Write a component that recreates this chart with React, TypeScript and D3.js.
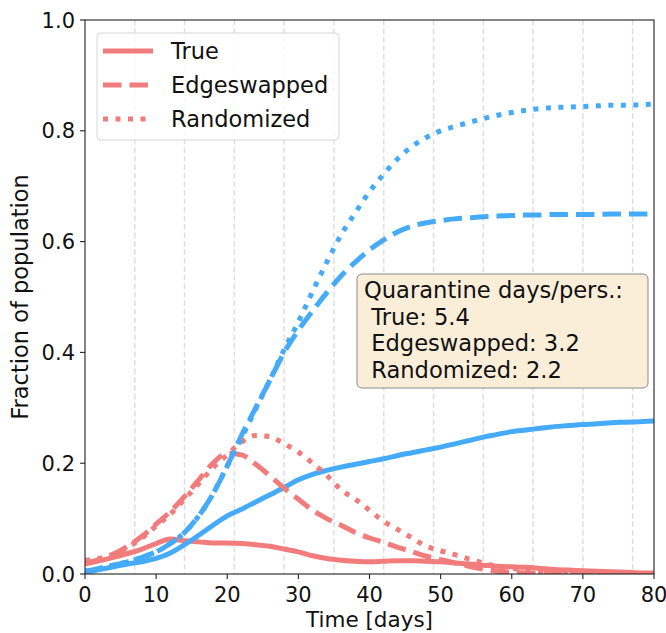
import React from 'react';
import * as d3 from 'd3';

const days = [0, 2, 4, 6, 8, 10, 12, 14, 16, 18, 20, 22, 24, 26, 28, 30, 32, 34, 36, 38, 40,
  42, 44, 46, 48, 50, 52, 54, 56, 58, 60, 62, 64, 66, 68, 70, 72, 74, 76, 78, 80];

// cumulative (blue)
const trueCum = [0.003, 0.008, 0.013, 0.018, 0.022, 0.028, 0.038, 0.053, 0.07, 0.088, 0.105,
  0.117, 0.13, 0.143, 0.156, 0.17, 0.18, 0.187, 0.193, 0.198, 0.203, 0.208, 0.214, 0.219,
  0.224, 0.229, 0.235, 0.241, 0.247, 0.252, 0.257, 0.26, 0.263, 0.266, 0.268, 0.27, 0.271,
  0.273, 0.274, 0.275, 0.276];
const edgeCum = [0.005, 0.01, 0.016, 0.022, 0.03, 0.04, 0.055, 0.075, 0.105, 0.145, 0.195,
  0.25, 0.3, 0.35, 0.4, 0.44, 0.475, 0.508, 0.538, 0.563, 0.585, 0.603, 0.618, 0.628, 0.634,
  0.638, 0.641, 0.643, 0.645, 0.646, 0.647, 0.648, 0.648, 0.649, 0.649, 0.649, 0.649, 0.65,
  0.65, 0.65, 0.65];
const randCum = [0.005, 0.01, 0.016, 0.022, 0.03, 0.04, 0.055, 0.075, 0.105, 0.145, 0.195,
  0.245, 0.298, 0.35, 0.405, 0.455, 0.51, 0.563, 0.612, 0.652, 0.69, 0.722, 0.75, 0.772,
  0.788, 0.8, 0.808, 0.815, 0.822, 0.828, 0.833, 0.837, 0.84, 0.842, 0.843, 0.844, 0.845,
  0.846, 0.846, 0.847, 0.848];

// currently infected (red)
const trueAct = [0.018, 0.024, 0.03, 0.037, 0.045, 0.055, 0.063, 0.06, 0.058, 0.056, 0.056,
  0.055, 0.053, 0.05, 0.045, 0.04, 0.033, 0.028, 0.025, 0.023, 0.022, 0.023, 0.024, 0.024,
  0.023, 0.022, 0.02, 0.018, 0.016, 0.014, 0.013, 0.012, 0.01, 0.008, 0.007, 0.006, 0.005,
  0.004, 0.003, 0.002, 0.002];
const edgeAct = [0.02, 0.026, 0.036, 0.05, 0.068, 0.09, 0.113, 0.14, 0.17, 0.2, 0.218,
  0.215, 0.198, 0.177, 0.155, 0.135, 0.115, 0.1, 0.088, 0.075, 0.065, 0.057, 0.048, 0.04,
  0.032, 0.026, 0.02, 0.014, 0.009, 0.005, 0.003, 0.002, 0.001, 0.001, 0, 0, 0, 0, 0, 0, 0];
const randAct = [0.025, 0.028, 0.036, 0.048, 0.065, 0.087, 0.108, 0.135, 0.163, 0.192, 0.215,
  0.238, 0.25, 0.248, 0.235, 0.22, 0.2, 0.178, 0.152, 0.135, 0.115, 0.095, 0.08, 0.065,
  0.05, 0.042, 0.035, 0.027, 0.02, 0.013, 0.01, 0.007, 0.004, 0.002, 0.001, 0, 0, 0, 0, 0, 0];

const legendLabels = ['True', 'Edgeswapped', 'Randomized'];
const boxLines = ['Quarantine days/pers.:', ' True: 5.4', ' Edgeswapped: 3.2', ' Randomized: 2.2'];
const xTicks = [0, 10, 20, 30, 40, 50, 60, 70, 80];
const yTicks = [0, 0.2, 0.4, 0.6, 0.8, 1.0];
const gridDays = [7, 14, 21, 28, 35, 42, 49, 56, 63, 70, 77];

const RED = '#f27b7b';
const BLUE = '#45aaf7';
const dashes = ['none', '18.5,8', '5,7.5'];
const font = 'DejaVu Sans, sans-serif';

export default function App() {
  const W = 666, H = 633;
  const left = 85, right = 654, top = 20, bottom = 574;

  const x = d3.scaleLinear().domain([0, 80]).range([left, right]);
  const y = d3.scaleLinear().domain([0, 1]).range([bottom, top]);

  const line = d3.line<number>()
    .x((_, i) => x(days[i]))
    .y(d => y(d))
    .curve(d3.curveMonotoneX);

  const series = [
    { vals: trueAct, color: RED, dash: dashes[0] },
    { vals: trueCum, color: BLUE, dash: dashes[0] },
    { vals: edgeAct, color: RED, dash: dashes[1] },
    { vals: edgeCum, color: BLUE, dash: dashes[1] },
    { vals: randAct, color: RED, dash: dashes[2] },
    { vals: randCum, color: BLUE, dash: dashes[2] },
  ];

  return (
    <svg width={W} height={H} style={{ position: 'absolute', left: 0, top: 0, background: '#fff' }}
      fontFamily={font}>
      <defs>
        <clipPath id="plot">
          <rect x={left} y={top} width={right - left} height={bottom - top} />
        </clipPath>
      </defs>

      {gridDays.map(d => (
        <line key={d} x1={x(d)} x2={x(d)} y1={top} y2={bottom}
          stroke="#dedede" strokeWidth={1.5} strokeDasharray="5.5,3" />
      ))}

      <g clipPath="url(#plot)">
        {series.map((s, i) => (
          <path key={i} d={line(s.vals) || ''} fill="none" stroke={s.color}
            strokeWidth={5} strokeDasharray={s.dash} />
        ))}
      </g>

      {/* spines */}
      <rect x={left} y={top} width={right - left} height={bottom - top}
        fill="none" stroke="#222" strokeWidth={1.1} />

      {/* x axis */}
      {xTicks.map(t => (
        <g key={t}>
          <line x1={x(t)} x2={x(t)} y1={bottom} y2={bottom + 5} stroke="#222" strokeWidth={1.1} />
          <text x={x(t)} y={bottom + 28} textAnchor="middle" fontSize={21} fill="#111">{t}</text>
        </g>
      ))}
      <text x={(left + right) / 2} y={627} textAnchor="middle" fontSize={21.5} fill="#111">Time [days]</text>

      {/* y axis */}
      {yTicks.map(t => (
        <g key={t}>
          <line x1={left - 5} x2={left} y1={y(t)} y2={y(t)} stroke="#222" strokeWidth={1.1} />
          <text x={left - 10} y={y(t) + 7.5} textAnchor="end" fontSize={21} fill="#111">{t.toFixed(1)}</text>
        </g>
      ))}
      <text transform={`translate(28,${(top + bottom) / 2}) rotate(-90)`} textAnchor="middle"
        fontSize={22.5} fill="#111">Fraction of population</text>

      {/* legend */}
      <rect x={97} y={33} width={242} height={107} rx={4} fill="#fff" fillOpacity={0.8}
        stroke="#d6d6d6" strokeWidth={1} />
      {legendLabels.map((lab, i) => {
        const cy = 51 + i * 34;
        return (
          <g key={lab}>
            <line x1={103} x2={153} y1={cy} y2={cy} stroke={RED} strokeWidth={5}
              strokeDasharray={dashes[i]} />
            <text x={171} y={cy + 8} fontSize={22.5} fill="#111">{lab}</text>
          </g>
        );
      })}

      {/* text box */}
      <rect x={357} y={274} width={291} height={114} rx={5} fill="#faeed9"
        stroke="#8a8a8a" strokeWidth={1} />
      {boxLines.map((l, i) => (
        <text key={i} x={364} y={298 + i * 26.6} fontSize={22.6} fill="#111"
          style={{ whiteSpace: 'pre' }}>{l}</text>
      ))}
    </svg>
  );
}
